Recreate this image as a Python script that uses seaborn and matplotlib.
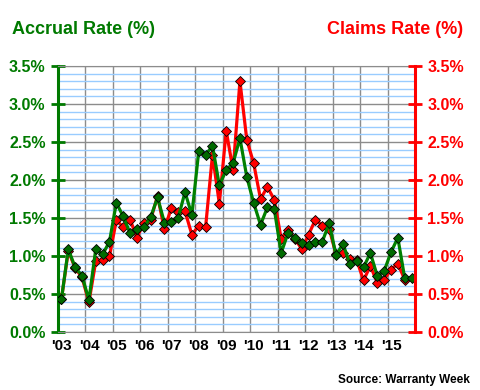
import numpy as np
import pandas as pd
import matplotlib
matplotlib.use("Agg")
import matplotlib.pyplot as plt
import matplotlib.transforms as mtransforms
from matplotlib.ticker import MultipleLocator, FuncFormatter
import seaborn as sns

# quarterly warranty rates, 2003Q1 .. 2015Q4 (claims stops one quarter early)
accrual = [0.43, 1.09, 0.85, 0.74, 0.42, 1.09, 1.02, 1.19,
           1.70, 1.52, 1.30, 1.36, 1.38, 1.51, 1.77, 1.44,
           1.45, 1.50, 1.84, 1.54, 2.38, 2.33, 2.45, 1.93,
           2.13, 2.22, 2.55, 2.04, 1.70, 1.41, 1.64, 1.62,
           1.04, 1.30, 1.24, 1.17, 1.14, 1.19, 1.19, 1.43,
           1.01, 1.16, 0.90, 0.93, 0.85, 1.04, 0.74, 0.80,
           1.05, 1.24, 0.71, 0.71]
claims = [0.43, 1.07, 0.84, 0.72, 0.39, 0.93, 0.95, 1.00,
          1.47, 1.38, 1.48, 1.24, 1.44, 1.48, 1.79, 1.35,
          1.63, 1.58, 1.59, 1.28, 1.40, 1.38, 2.33, 1.69,
          2.65, 2.13, 3.30, 2.53, 2.22, 1.75, 1.91, 1.74,
          1.23, 1.34, 1.23, 1.09, 1.28, 1.48, 1.40, 1.36,
          1.02, 1.04, 0.96, 0.95, 0.68, 0.87, 0.65, 0.69,
          0.82, 0.90, 0.69]
years = list(range(2003, 2016))
year_labels = ["'03", "'04", "'05", "'06", "'07", "'08", "'09",
               "'10", "'11", "'12", "'13", "'14", "'15"]

quarters = pd.period_range("2003Q1", periods=len(accrual), freq="Q")
xpos = quarters.year + (quarters.quarter - 0.5) / 4
df_acc = pd.DataFrame({"x": xpos, "rate": accrual})
df_clm = pd.DataFrame({"x": xpos[:len(claims)], "rate": claims})

GREEN = "#007a00"
RED = "#ff0000"
GRAY = "#8c8c8c"
LIGHTBLUE = "#99ccff"

sns.set_style("white")
plt.rcParams["font.family"] = ["Liberation Sans", "DejaVu Sans"]
plt.rcParams["font.weight"] = "bold"

fig = plt.figure(figsize=(4.8, 3.9), dpi=100)
ax = fig.add_axes([58 / 480, 1 - 332 / 390, 357 / 480, 266 / 390])

sns.lineplot(data=df_clm, x="x", y="rate", ax=ax, color=RED, linewidth=2.3,
             marker="D", markersize=5.3, markerfacecolor=RED,
             markeredgecolor="black", markeredgewidth=0.6, zorder=3)
sns.lineplot(data=df_acc, x="x", y="rate", ax=ax, color="#008000", linewidth=2.3,
             marker="D", markersize=5.3, markerfacecolor="#006a00",
             markeredgecolor="black", markeredgewidth=0.6, zorder=4)

ax.set_xlim(2003, 2016)
ax.set_ylim(0, 3.5)
ax.set_xlabel("")
ax.set_ylabel("")

# grid: light blue every 0.1%, gray every 0.5%, gray at each year
ax.yaxis.set_major_locator(MultipleLocator(0.5))
ax.yaxis.set_minor_locator(MultipleLocator(0.1))
ax.grid(which="minor", axis="y", color=LIGHTBLUE, linewidth=1)
ax.grid(which="major", axis="y", color=GRAY, linewidth=1)
ax.set_xticks(years + [2016])
ax.set_xticklabels(year_labels + [""])
ax.grid(which="major", axis="x", color=GRAY, linewidth=1)
ax.set_axisbelow(True)

pct = FuncFormatter(lambda v, p: f"{v:.1f}%")
ax.yaxis.set_major_formatter(pct)
ax.tick_params(axis="y", which="major", direction="inout", length=10, width=2,
               color=GREEN, labelcolor=GREEN, labelsize=11.5, pad=4)
ax.tick_params(axis="y", which="minor", length=0)
ax.tick_params(axis="x", length=0, labelsize=11, labelcolor="black", pad=5)
offset = mtransforms.ScaledTranslation(3.5 / 100, 0, fig.dpi_scale_trans)
for lab in ax.get_xticklabels():
    lab.set_transform(lab.get_transform() + offset)
    lab.set_fontweight("bold")
for lab in ax.get_yticklabels():
    lab.set_fontweight("bold")

ax.spines["left"].set_color(GREEN)
ax.spines["left"].set_linewidth(2.2)
ax.spines["right"].set_visible(False)
ax.spines["top"].set_color(GRAY)
ax.spines["bottom"].set_color(GRAY)

ax2 = ax.twinx()
ax2.set_ylim(0, 3.5)
ax2.yaxis.set_major_locator(MultipleLocator(0.5))
ax2.yaxis.set_major_formatter(pct)
ax2.tick_params(axis="y", direction="inout", length=10, width=2,
                color=RED, labelcolor=RED, labelsize=11.5, pad=4)
for lab in ax2.get_yticklabels():
    lab.set_fontweight("bold")
for s in ["left", "top", "bottom"]:
    ax2.spines[s].set_visible(False)
ax2.spines["right"].set_color(RED)
ax2.spines["right"].set_linewidth(2.2)

fig.text(12 / 480, 1 - 30 / 390, "Accrual Rate (%)", color=GREEN, fontsize=13,
         fontweight="bold", ha="left", va="center")
fig.text(463 / 480, 1 - 30 / 390, "Claims Rate (%)", color=RED, fontsize=13,
         fontweight="bold", ha="right", va="center")
fig.text(470 / 480, 1 - 380 / 390, "Source: Warranty Week", color="black",
         fontsize=8.5, fontweight="bold", ha="right", va="center")

fig.savefig("out.png", dpi=100)
plt.close(fig)
